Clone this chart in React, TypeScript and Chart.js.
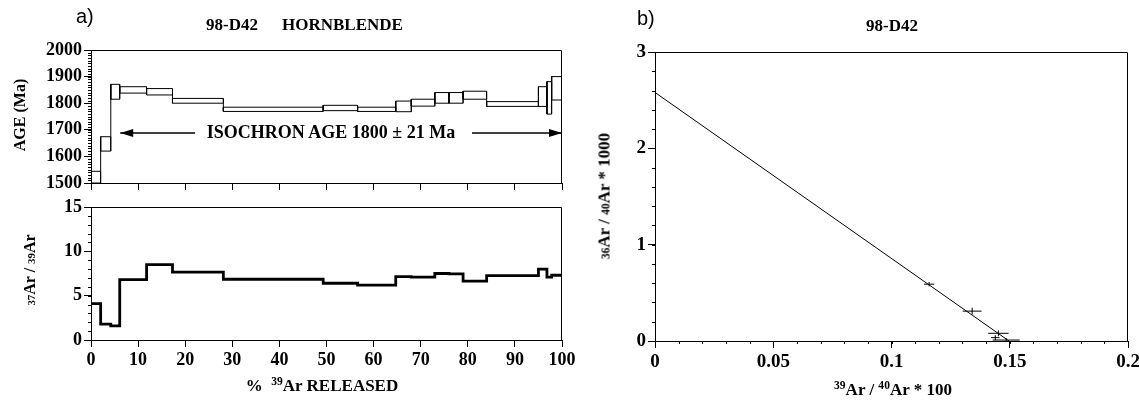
import React, { useEffect, useRef } from "react";
import { Chart, registerables } from "chart.js";
Chart.register(...registerables);

const W = 1139;
const H = 402;

// ---------- a) Age spectrum & 37Ar/39Ar ----------
const stepEdges = [0, 2.05, 4.2, 6.1, 11.8, 17.3, 28.1, 49.3, 56.6, 64.7, 68, 73, 76, 79, 84, 95, 96.8, 97.8, 100];
const ageCenter = [1522, 1647, 1843, 1850, 1843, 1809, 1777, 1782, 1777, 1788, 1802, 1820, 1820, 1830, 1797, 1825, 1820, 1856];
const ageError = [22, 27, 28, 12, 12, 9, 8, 10, 8, 20, 13, 20, 20, 15, 9, 37, 61, 44];
const caKRatio = [4.1, 1.8, 1.6, 6.8, 8.5, 7.65, 6.85, 6.4, 6.2, 7.15, 7.1, 7.5, 7.45, 6.65, 7.25, 8.0, 7.1, 7.3];
const percentTicks = [0, 10, 20, 30, 40, 50, 60, 70, 80, 90, 100];
const ageTicks = [1500, 1600, 1700, 1800, 1900, 2000];
const ageMinorTicks = Array.from({ length: 51 }, (_, i) => 1500 + i * 10);
const ratioTicks = [0, 5, 10, 15];
const ratioMinorTicks = Array.from({ length: 16 }, (_, i) => i);
const arrowAge = 1688;
const arrowLeft = [22.1, 6.2];
const arrowRight = [80.9, 100];

// ---------- b) Isochron ----------
const isoX = [0.1159, 0.1341, 0.1452, 0.1439, 0.1485];
const isoY = [0.59, 0.31, 0.08, 0.035, 0.01];
const isoXErr = [0.0022, 0.004, 0.0043, 0.0018, 0.0057];
const isoYErr = [0.012, 0.025, 0.02, 0.015, 0.01];
const isoLineX = [0, 0.1497];
const isoLineY = [2.58, 0];
const isoXTicks = [0, 0.05, 0.1, 0.15, 0.2];
const isoXMinor = Array.from({ length: 21 }, (_, i) => i * 0.01);
const isoYTicks = [0, 1, 2, 3];
const isoYMinor = Array.from({ length: 16 }, (_, i) => i * 0.2);

const SERIF = "'Liberation Serif', 'Times New Roman', serif";
const tickFont = { family: SERIF, size: 18, weight: "bold" as const };

function fixedTicks(values: number[]) {
  return (s: any) => {
    s.ticks = values.map((v) => ({ value: v }));
  };
}

function xAxis(min: number, max: number, ticks: number[], showLabels: boolean, height: number, size = 18) {
  return {
    type: "linear",
    position: "bottom",
    min,
    max,
    afterBuildTicks: fixedTicks(ticks),
    afterFit: (s: any) => {
      s.height = height;
      s.paddingLeft = 0;
      s.paddingRight = 0;
    },
    ticks: {
      display: showLabels,
      color: "#000",
      font: { ...tickFont, size },
      padding: 3,
      maxRotation: 0,
      autoSkip: false,
      callback: (v: any) => String(v),
    },
    grid: { drawOnChartArea: false, drawTicks: true, tickLength: 7, color: "#000", lineWidth: 1 },
    border: { display: true, color: "#000", width: 1 },
  };
}

function yAxis(min: number, max: number, ticks: number[], width: number, size = 18) {
  return {
    type: "linear",
    position: "left",
    min,
    max,
    afterBuildTicks: fixedTicks(ticks),
    afterFit: (s: any) => {
      s.width = width;
      s.paddingTop = 0;
      s.paddingBottom = 0;
    },
    ticks: {
      display: true,
      color: "#000",
      font: { ...tickFont, size },
      padding: 2,
      autoSkip: false,
      callback: (v: any) => String(v),
    },
    grid: { drawOnChartArea: false, drawTicks: true, tickLength: 7, color: "#000", lineWidth: 1 },
    border: { display: true, color: "#000", width: 1 },
  };
}

function decorPlugin(opts: { xMinor?: number[]; yMinor?: number[]; extra?: (chart: any) => void }) {
  return {
    id: "decor",
    afterDraw(chart: any) {
      const { ctx, chartArea: a, scales } = chart;
      ctx.save();
      ctx.strokeStyle = "#000";
      ctx.lineWidth = 1;
      ctx.beginPath();
      ctx.moveTo(a.left, a.top + 0.5);
      ctx.lineTo(a.right - 0.5, a.top + 0.5);
      ctx.lineTo(a.right - 0.5, a.bottom);
      ctx.stroke();
      ctx.beginPath();
      (opts.xMinor || []).forEach((v) => {
        const px = Math.round(scales.x.getPixelForValue(v)) + 0.5;
        ctx.moveTo(px, a.bottom);
        ctx.lineTo(px, a.bottom + 3);
      });
      (opts.yMinor || []).forEach((v) => {
        const py = Math.round(scales.y.getPixelForValue(v)) + 0.5;
        ctx.moveTo(a.left - 3, py);
        ctx.lineTo(a.left, py);
      });
      ctx.stroke();
      if (opts.extra) opts.extra(chart);
      ctx.restore();
    },
  };
}

function drawArrow(ctx: any, x1: number, x2: number, y: number) {
  ctx.beginPath();
  ctx.moveTo(x1, y);
  ctx.lineTo(x2, y);
  ctx.stroke();
  const dir = x2 > x1 ? 1 : -1;
  ctx.beginPath();
  ctx.moveTo(x2, y);
  ctx.lineTo(x2 - dir * 13, y - 4);
  ctx.lineTo(x2 - dir * 13, y + 4);
  ctx.closePath();
  ctx.fill();
}

function boxPoints() {
  const pts: any[] = [];
  for (let i = 0; i < ageCenter.length; i++) {
    const x0 = stepEdges[i];
    const x1 = stepEdges[i + 1];
    const lo = ageCenter[i] - ageError[i];
    const hi = ageCenter[i] + ageError[i];
    pts.push({ x: x0, y: lo }, { x: x1, y: lo }, { x: x1, y: hi }, { x: x0, y: hi }, { x: x0, y: lo }, { x: x1, y: null });
  }
  return pts;
}

function connectorPoints() {
  const pts: any[] = [];
  for (let i = 0; i < ageCenter.length - 1; i++) {
    const x = stepEdges[i + 1];
    const loA = ageCenter[i] - ageError[i];
    const hiA = ageCenter[i] + ageError[i];
    const loB = ageCenter[i + 1] - ageError[i + 1];
    const hiB = ageCenter[i + 1] + ageError[i + 1];
    pts.push({ x, y: Math.min(loA, loB) }, { x, y: Math.max(hiA, hiB) }, { x, y: null });
  }
  return pts;
}

function ratioPoints() {
  const pts = caKRatio.map((v, i) => ({ x: stepEdges[i], y: v }));
  pts.push({ x: 100, y: caKRatio[caKRatio.length - 1] });
  return pts;
}

function useChart(ref: any, makeConfig: () => any) {
  useEffect(() => {
    const chart = new Chart(ref.current, makeConfig());
    return () => chart.destroy();
  }, []);
}

const baseOpts = (padding: any) => ({
  responsive: false,
  animation: false,
  devicePixelRatio: 1,
  layout: { padding },
  plugins: { legend: { display: false }, tooltip: { enabled: false }, title: { display: false } },
  elements: { point: { radius: 0 } },
});

const canvasStyle: any = { position: "absolute", left: 0, top: 0 };

function Txt({ x, y, size = 16, rotate = false, align = "center", family = SERIF, bold = true, children }: any) {
  const tx = align === "center" ? "-50%" : "0";
  return (
    <div
      style={{
        position: "absolute",
        left: x,
        top: y,
        transform: `translate(${tx}, -50%)${rotate ? " rotate(-90deg)" : ""}`,
        transformOrigin: rotate ? "50% 50%" : undefined,
        fontFamily: family,
        fontWeight: bold ? "bold" : "normal",
        fontSize: size,
        whiteSpace: "nowrap",
        lineHeight: 1,
        color: "#000",
      }}
    >
      {children}
    </div>
  );
}

const sup = { fontSize: "0.68em", verticalAlign: "0.45em" };
const small = { fontSize: "0.68em" };

export default function App() {
  const ageRef = useRef<HTMLCanvasElement>(null);
  const ratioRef = useRef<HTMLCanvasElement>(null);
  const isoRef = useRef<HTMLCanvasElement>(null);

  useChart(ageRef, () => ({
    type: "scatter",
    data: {
      datasets: [
        { data: boxPoints(), showLine: true, borderColor: "#000", borderWidth: 1, spanGaps: false, pointRadius: 0 },
        { data: connectorPoints(), showLine: true, borderColor: "#000", borderWidth: 1, spanGaps: false, pointRadius: 0 },
      ],
    },
    options: {
      ...baseOpts({ left: 31, top: 50, right: W - 562, bottom: H - 183 - 10 }),
      scales: {
        x: xAxis(0, 100, percentTicks, false, 10),
        y: yAxis(1500, 2000, ageTicks, 60),
      },
    },
    plugins: [
      decorPlugin({
        yMinor: ageMinorTicks,
        extra: (chart: any) => {
          const { ctx, scales } = chart;
          ctx.fillStyle = "#000";
          ctx.lineWidth = 1.3;
          const y = scales.y.getPixelForValue(arrowAge);
          drawArrow(ctx, scales.x.getPixelForValue(arrowLeft[0]), scales.x.getPixelForValue(arrowLeft[1]), y);
          drawArrow(ctx, scales.x.getPixelForValue(arrowRight[0]), scales.x.getPixelForValue(arrowRight[1]), y);
        },
      }),
    ],
  }));

  useChart(ratioRef, () => ({
    type: "scatter",
    data: {
      datasets: [
        { data: ratioPoints(), showLine: true, stepped: "before", borderColor: "#000", borderWidth: 2.8, pointRadius: 0 },
      ],
    },
    options: {
      ...baseOpts({ left: 31, top: 207, right: W - 562, bottom: H - 340 - 30 }),
      scales: {
        x: xAxis(0, 100, percentTicks, true, 30),
        y: yAxis(0, 15, ratioTicks, 60),
      },
    },
    plugins: [decorPlugin({ yMinor: ratioMinorTicks })],
  }));

  useChart(isoRef, () => ({
    type: "scatter",
    data: {
      datasets: [
        {
          data: isoLineX.map((x, i) => ({ x, y: isoLineY[i] })),
          showLine: true,
          borderColor: "#000",
          borderWidth: 1,
          pointRadius: 0,
        },
        {
          data: isoX.map((x, i) => ({ x, y: isoY[i] })),
          showLine: false,
          pointRadius: 0,
        },
      ],
    },
    options: {
      ...baseOpts({ left: 615, top: 52, right: W - 1128, bottom: H - 341 - 34 }),
      scales: {
        x: xAxis(0, 0.2, isoXTicks, true, 34, 19),
        y: yAxis(0, 3, isoYTicks, 40, 19),
      },
    },
    plugins: [
      decorPlugin({
        xMinor: isoXMinor,
        yMinor: isoYMinor,
        extra: (chart: any) => {
          const { ctx, scales } = chart;
          ctx.lineWidth = 1;
          ctx.beginPath();
          isoX.forEach((x, i) => {
            const px = scales.x.getPixelForValue(x);
            const py = scales.y.getPixelForValue(isoY[i]);
            ctx.moveTo(scales.x.getPixelForValue(x - isoXErr[i]), py);
            ctx.lineTo(scales.x.getPixelForValue(x + isoXErr[i]), py);
            ctx.moveTo(px, scales.y.getPixelForValue(isoY[i] - isoYErr[i]) + 1);
            ctx.lineTo(px, scales.y.getPixelForValue(isoY[i] + isoYErr[i]) - 1);
          });
          ctx.stroke();
        },
      }),
    ],
  }));

  return (
    <div style={{ position: "absolute", left: 0, top: 0, width: W, height: H, background: "#fff", overflow: "hidden" }}>
      <canvas ref={ageRef} width={W} height={H} style={canvasStyle} />
      <canvas ref={ratioRef} width={W} height={H} style={canvasStyle} />
      <canvas ref={isoRef} width={W} height={H} style={canvasStyle} />

      <Txt x={76} y={16} size={20} align="left" family="'Liberation Sans', Arial, sans-serif" bold={false}>a)</Txt>
      <Txt x={206} y={24} size={17} align="left">98-D42</Txt>
      <Txt x={282} y={24} size={17} align="left">HORNBLENDE</Txt>
      <Txt x={20} y={115} size={16} rotate>AGE (Ma)</Txt>
      <Txt x={30} y={270} size={16} rotate>
        <span style={small}>37</span>Ar / <span style={small}>39</span>Ar
      </Txt>
      <Txt x={331} y={132} size={18}>ISOCHRON AGE 1800 ± 21 Ma</Txt>
      <Txt x={322} y={385} size={17}>
        %&nbsp;&nbsp;<span style={sup}>39</span>Ar RELEASED
      </Txt>

      <Txt x={637} y={18} size={20} align="left" family="'Liberation Sans', Arial, sans-serif" bold={false}>b)</Txt>
      <Txt x={892} y={25} size={17}>98-D42</Txt>
      <Txt x={604} y={196} size={17} rotate>
        <span style={small}>36</span>Ar / <span style={small}>40</span>Ar * 1000
      </Txt>
      <Txt x={893} y={389} size={17}>
        <span style={sup}>39</span>Ar / <span style={sup}>40</span>Ar * 100
      </Txt>
    </div>
  );
}
